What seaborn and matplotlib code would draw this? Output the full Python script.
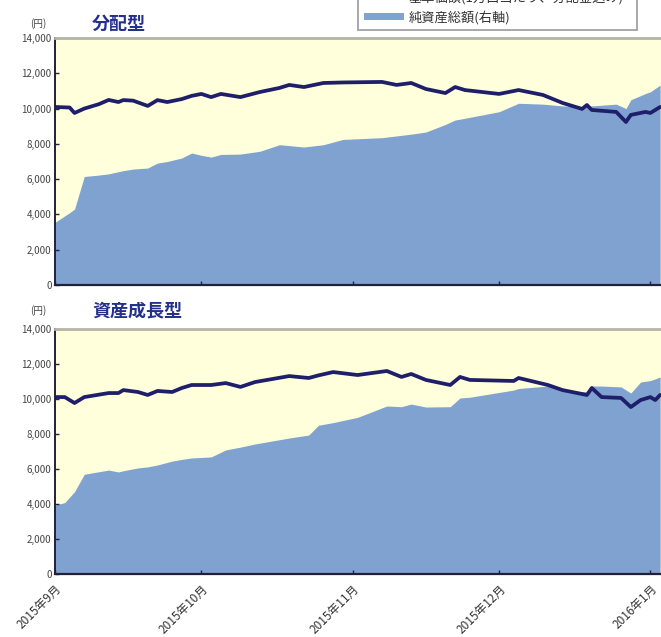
import matplotlib
matplotlib.use("Agg")
import matplotlib.pyplot as plt
import matplotlib.dates as mdates
from matplotlib.lines import Line2D
from matplotlib.patches import Patch
from matplotlib.ticker import FixedLocator, FuncFormatter
import pandas as pd
import seaborn as sns

sns.set_theme(style="white")
plt.rcParams["font.family"] = ["Noto Sans CJK JP", "DejaVu Sans"]

# ---- 分配型 ----
dist_dates = [
    "2015-09-01", "2015-09-04", "2015-09-05", "2015-09-07", "2015-09-10",
    "2015-09-12", "2015-09-14", "2015-09-15", "2015-09-17", "2015-09-20",
    "2015-09-22", "2015-09-24", "2015-09-27", "2015-09-29", "2015-10-01",
    "2015-10-03", "2015-10-05", "2015-10-09", "2015-10-13", "2015-10-17",
    "2015-10-19", "2015-10-22", "2015-10-26", "2015-10-30", "2015-11-07",
    "2015-11-10", "2015-11-13", "2015-11-16", "2015-11-20", "2015-11-22",
    "2015-11-24", "2015-12-01", "2015-12-05", "2015-12-10", "2015-12-14",
    "2015-12-18", "2015-12-19", "2015-12-20", "2015-12-25", "2015-12-27",
    "2015-12-28", "2015-12-31", "2016-01-01", "2016-01-03",
]
dist_nav = [  # 基準価額(円)
    10090, 10060, 9750, 10000, 10250,
    10490, 10370, 10480, 10450, 10150,
    10480, 10370, 10540, 10720, 10830,
    10650, 10830, 10650, 10940, 11170,
    11340, 11220, 11450, 11480, 11510,
    11340, 11450, 11110, 10880, 11220,
    11050, 10830, 11050, 10770, 10320,
    9980, 10200, 9920, 9810, 9240,
    9640, 9810, 9750, 10090,
]
dist_assets = [  # 純資産総額(万円)
    3550, 4100, 4300, 6150, 6230,
    6300, 6420, 6480, 6570, 6630,
    6910, 7000, 7200, 7480, 7350,
    7250, 7400, 7420, 7580, 7950,
    7900, 7820, 7950, 8250, 8350,
    8450, 8550, 8670, 9100, 9350,
    9450, 9820, 10300, 10250, 10150,
    10100, 10100, 10150, 10250, 10000,
    10500, 10850, 10950, 11330,
]

# ---- 資産成長型 ----
grow_dates = [
    "2015-09-01", "2015-09-03", "2015-09-05", "2015-09-07", "2015-09-12",
    "2015-09-14", "2015-09-15", "2015-09-18", "2015-09-20", "2015-09-22",
    "2015-09-25", "2015-09-27", "2015-09-29", "2015-10-03", "2015-10-06",
    "2015-10-09", "2015-10-12", "2015-10-19", "2015-10-23", "2015-10-25",
    "2015-10-28", "2015-11-02", "2015-11-08", "2015-11-11", "2015-11-13",
    "2015-11-16", "2015-11-21", "2015-11-23", "2015-11-25", "2015-12-04",
    "2015-12-05", "2015-12-11", "2015-12-14", "2015-12-19", "2015-12-20",
    "2015-12-22", "2015-12-26", "2015-12-28", "2015-12-30", "2016-01-01",
    "2016-01-02", "2016-01-03",
]
grow_nav = [
    10110, 10110, 9770, 10110, 10340,
    10340, 10510, 10400, 10230, 10460,
    10400, 10630, 10800, 10800, 10910,
    10690, 10970, 11310, 11200, 11350,
    11540, 11370, 11600, 11260, 11430,
    11090, 10800, 11260, 11090, 11030,
    11200, 10800, 10510, 10230, 10630,
    10110, 10060, 9540, 9940, 10110,
    9940, 10230,
]
grow_assets = [
    3940, 4080, 4700, 5700, 5940,
    5830, 5900, 6060, 6120, 6230,
    6450, 6550, 6630, 6690, 7090,
    7250, 7430, 7770, 7940, 8500,
    8650, 8950, 9600, 9560, 9710,
    9540, 9560, 10060, 10100, 10510,
    10600, 10740, 10500, 10400, 10740,
    10740, 10690, 10340, 10970, 11050,
    11150, 11260,
]

month_starts = ["2015-09-01", "2015-10-01", "2015-11-01", "2015-12-01", "2016-01-01"]
month_labels = ["2015年9月", "2015年10月", "2015年11月", "2015年12月", "2016年1月"]
yticks = [0, 2000, 4000, 6000, 8000, 10000, 12000, 14000]

legend_labels = ["基準価額(1万口当たり、分配金込み)", "純資産総額(右軸)"]

NAVY = "#1e1e6a"
BLUE = "#7fa2d0"
CREAM = "#ffffdc"
TITLE = "#23308c"
TEXT = "#444444"

W, H = 661, 637
fig = plt.figure(figsize=(W / 100, H / 100), dpi=100)
fig.patch.set_facecolor("white")

x_start = pd.Timestamp("2015-09-01")
x_end = pd.Timestamp("2016-01-03 04:20")


def draw_panel(top_px, bottom_px, dates, nav, assets, title, title_y, show_labels):
    left_px = 55
    rect = [left_px / W, 1 - bottom_px / H, (W - left_px) / W, (bottom_px - top_px) / H]
    ax = fig.add_axes(rect)
    ax2 = ax.twinx()
    # net assets behind, price line on top
    ax.set_zorder(ax2.get_zorder() + 1)
    ax.patch.set_visible(False)
    ax2.patch.set_visible(True)
    ax2.set_facecolor(CREAM)

    df = pd.DataFrame({"date": pd.to_datetime(dates), "nav": nav, "assets": assets})
    ax2.fill_between(df["date"], df["assets"], 0, color=BLUE, linewidth=0)
    sns.lineplot(data=df, x="date", y="nav", ax=ax, color=NAVY, linewidth=2.7)

    for a in (ax, ax2):
        a.set_xlim(x_start, x_end)
        a.set_ylim(0, 14000)
    ax2.tick_params(right=False, labelright=False)
    for s in ax2.spines.values():
        s.set_visible(False)

    ax.set_xlabel("")
    ax.set_ylabel("")
    ax.yaxis.set_major_locator(FixedLocator(yticks))
    ax.yaxis.set_major_formatter(FuncFormatter(lambda v, p: f"{int(v):,}"))
    ax.xaxis.set_major_locator(FixedLocator(mdates.date2num(pd.to_datetime(month_starts))))
    ax.tick_params(axis="y", direction="in", length=3, width=1, color="#222244",
                   labelsize=7, labelcolor=TEXT, pad=2.5, left=True)
    ax.tick_params(axis="x", direction="in", length=3, width=1, color="#222244",
                   bottom=True, labelbottom=show_labels)
    if show_labels:
        ax.set_xticklabels(month_labels, rotation=45, ha="right", va="top",
                           rotation_mode="anchor", fontsize=8.5, color="#333333")
        ax.tick_params(axis="x", pad=6)

    ax.spines["left"].set_color("#20203a")
    ax.spines["left"].set_linewidth(1.4)
    ax.spines["bottom"].set_color("#20203a")
    ax.spines["bottom"].set_linewidth(1.6)
    ax.spines["top"].set_color("#b4b4a8")
    ax.spines["top"].set_linewidth(2.0)
    ax.spines["right"].set_visible(False)

    fig.text(92 / W, 1 - title_y / H, title, fontsize=13, fontweight="bold",
             color=TITLE, ha="left", va="center")
    fig.text(38 / W, 1 - title_y / H, "(円)", fontsize=7, color=TEXT,
             ha="center", va="center")
    return ax


draw_panel(38, 285, dist_dates, dist_nav, dist_assets, "分配型", 24, False)
draw_panel(329, 574, grow_dates, grow_nav, grow_assets, "資産成長型", 311, True)

handles = [Line2D([0], [0], color=NAVY, linewidth=2.5),
           Patch(facecolor=BLUE, edgecolor="none")]
leg = fig.legend(handles, legend_labels, loc="lower left",
                 bbox_to_anchor=(358 / W, 1 - 30 / H, (637 - 358) / W, 0.05),
                 mode="expand", borderaxespad=0, fontsize=9.5, frameon=True,
                 fancybox=False, edgecolor="#8a8a8a", facecolor="white",
                 handlelength=3.0, handleheight=0.45, labelspacing=0.45,
                 borderpad=0.45, handletextpad=0.4, labelcolor="#333333")
leg.get_frame().set_linewidth(1.3)

fig.savefig("out.png", dpi=100, facecolor="white")
